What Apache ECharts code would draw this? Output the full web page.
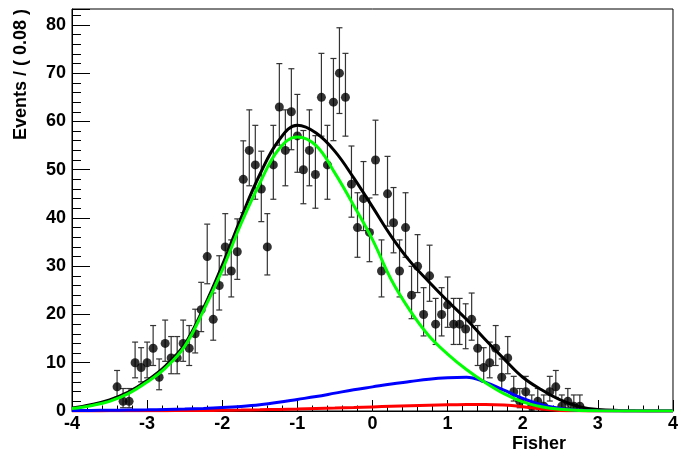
<!DOCTYPE html>
<html><head><meta charset="utf-8">
<script src="https://cdn.jsdelivr.net/npm/echarts@6/dist/echarts.min.js"></script>
<style>html,body{margin:0;padding:0;background:#fff}#c{width:681px;height:458px}</style>
</head><body><div id="c"></div>
<script>
// Data histogram: bin centres (width 0.08) and event counts
const binX = [-3.40,-3.32,-3.24,-3.16,-3.08,-3.00,-2.92,-2.84,-2.76,-2.68,-2.60,-2.52,-2.44,-2.36,-2.28,-2.20,-2.12,-2.04,-1.96,-1.88,-1.80,-1.72,-1.64,-1.56,-1.48,-1.40,-1.32,-1.24,-1.16,-1.08,-1.00,-0.92,-0.84,-0.76,-0.68,-0.60,-0.52,-0.44,-0.36,-0.28,-0.20,-0.12,-0.04,0.04,0.12,0.20,0.28,0.36,0.44,0.52,0.60,0.68,0.76,0.84,0.92,1.00,1.08,1.16,1.24,1.32,1.40,1.48,1.56,1.64,1.72,1.80,1.88,1.96,2.04,2.12,2.20,2.28,2.36,2.44,2.52,2.60,2.68,2.76];
const counts = [5,2,2,10,9,10,13,7,14,11,11,14,13,16,21,32,19,26,34,29,33,48,54,51,46,34,51,63,54,62,57,50,54,49,65,51,64,70,65,47,38,44,37,52,29,45,39,29,38,24,30,20,28,18,20,22,18,18,17,19,13,9,10,13,7,11,4,2,4,1,2,1,4,5,1,2,1,1];

// Fit curves sampled along Fisher
const curveX = [-4,-3.75,-3.5,-3.25,-3,-2.75,-2.5,-2.25,-2,-1.75,-1.5,-1.25,-1,-0.75,-0.5,-0.25,0,0.25,0.5,0.75,1,1.25,1.5,1.75,2,2.25,2.5,2.75,3,3.5,4];
const totalCurve = [0.6,1.3,2.3,3.9,6.3,9.4,13.8,21.3,30.2,40.0,49.0,56.0,59.2,57.6,53.8,48.3,42.3,36.2,31.0,26.8,22.8,19.0,14.8,10.8,7.0,4.4,2.3,0.9,0.3,0.03,0];
const greenCurve = [0.5,1.1,2.0,3.6,6.0,9.0,13.4,20.8,29.2,38.8,47.2,54.2,56.8,55.0,49.3,42.6,35.5,27.2,20.8,15.6,11.8,8.6,5.9,3.6,1.9,0.9,0.35,0.12,0.04,0,0];
const blueCurve = [0.1,0.12,0.15,0.2,0.25,0.32,0.4,0.52,0.7,0.95,1.3,1.8,2.4,3.0,3.7,4.4,5.0,5.6,6.1,6.6,6.9,7.0,6.0,4.3,2.6,1.3,0.5,0.15,0.05,0,0];
const redCurve = [0.02,0.02,0.03,0.04,0.05,0.07,0.09,0.11,0.15,0.2,0.26,0.33,0.4,0.5,0.6,0.72,0.85,0.97,1.08,1.18,1.27,1.33,1.35,1.25,0.9,0.4,0.12,0.03,0,0,0];

const FONT = '"Liberation Sans", Arial, Helvetica, sans-serif';

// Poisson (Gehrels) asymmetric error bars from the counts
const errData = binX.map((x, i) => {
  const n = counts[i];
  return [x, n, n - Math.sqrt(n - 0.25), n + 1 + Math.sqrt(n + 0.75)];
});
const pts = binX.map((x, i) => [x, counts[i]]);
const mk = arr => curveX.map((x, i) => [x, arr[i]]);

const chart = echarts.init(document.getElementById('c'), null, {renderer: 'canvas'});
const lineSeries = (name, arr, color) => ({
  name, type: 'line', data: mk(arr), showSymbol: false, smooth: 0.4,
  lineStyle: {color, width: 3}, itemStyle: {color}, z: 4, silent: true
});
chart.setOption({
  animation: false,
  backgroundColor: '#fff',
  grid: {left: 72, right: 6, top: 9, bottom: 47, show: true, borderColor: '#000', borderWidth: 1, backgroundColor: '#fff'},
  xAxis: {
    type: 'value', min: -4, max: 4, interval: 1,
    axisLine: {onZero: false, lineStyle: {color: '#000', width: 1}},
    axisTick: {inside: true, length: 11, lineStyle: {color: '#000', width: 1}},
    minorTick: {show: true, splitNumber: 5, length: 5.5, lineStyle: {color: '#000', width: 1}},
    splitLine: {show: false},
    axisLabel: {color: '#000', fontSize: 18, fontWeight: 'bold', fontFamily: FONT, margin: 4}
  },
  yAxis: {
    type: 'value', min: 0, max: 83.3, interval: 10,
    axisLine: {show: true, onZero: false, lineStyle: {color: '#000', width: 1}},
    axisTick: {show: true, inside: true, length: 18, lineStyle: {color: '#000', width: 1}},
    minorTick: {show: true, splitNumber: 5, length: 9, lineStyle: {color: '#000', width: 1}},
    splitLine: {show: false},
    axisLabel: {color: '#000', fontSize: 18, fontWeight: 'bold', fontFamily: FONT, margin: 6, showMaxLabel: false}
  },
  graphic: [
    {type: 'text', x: 539, y: 444, style: {text: 'Fisher', fill: '#000', font: 'bold 18px ' + FONT, align: 'center', verticalAlign: 'middle'}},
    {type: 'text', x: 21, y: 9, rotation: Math.PI / 2, style: {text: 'Events / ( 0.08 )', fill: '#000', font: 'bold 18px ' + FONT, align: 'right', verticalAlign: 'middle'}}
  ],
  series: [
    {
      type: 'custom', data: errData, z: 2, silent: true,
      renderItem: function (params, api) {
        const x = api.value(0), lo = api.value(2), hi = api.value(3);
        const a = api.coord([x, lo]), b = api.coord([x, hi]);
        const st = {stroke: '#333', lineWidth: 1.2};
        return {type: 'group', children: [
          {type: 'line', shape: {x1: a[0], y1: a[1], x2: b[0], y2: b[1]}, style: st},
          {type: 'line', shape: {x1: b[0] - 3, y1: b[1], x2: b[0] + 3, y2: b[1]}, style: st},
          {type: 'line', shape: {x1: a[0] - 3, y1: a[1], x2: a[0] + 3, y2: a[1]}, style: st}
        ]};
      }
    },
    {type: 'scatter', data: pts, symbol: 'circle', symbolSize: 9, itemStyle: {color: '#000'}, z: 3, silent: true},
    lineSeries('total', totalCurve, '#000000'),
    lineSeries('red', redCurve, '#ff0000'),
    lineSeries('blue', blueCurve, '#0000ff'),
    lineSeries('green', greenCurve, '#00ff00')
  ]
});
</script></body></html>
